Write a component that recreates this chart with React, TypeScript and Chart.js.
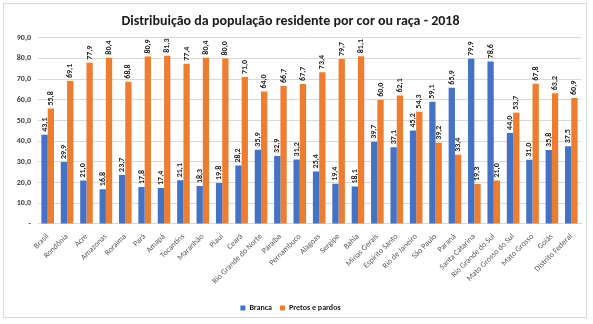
import React, { useEffect, useRef } from "react";
import { Chart, registerables } from "chart.js";

Chart.register(...registerables);

const categories = [
  "Brasil", "Rondônia", "Acre", "Amazonas", "Roraima", "Pará", "Amapá", "Tocantins",
  "Maranhão", "Piauí", "Ceará", "Rio Grande do Norte", "Paraíba", "Pernambuco",
  "Alagoas", "Sergipe", "Bahia", "Minas Gerais", "Espírito Santo", "Rio de Janeiro",
  "São Paulo", "Paraná", "Santa Catarina", "Rio Grande do Sul", "Mato Grosso do Sul",
  "Mato Grosso", "Goiás", "Distrito Federal",
];

const branca = [
  43.1, 29.9, 21.0, 16.8, 23.7, 17.8, 17.4, 21.1, 18.3, 19.8, 28.2, 35.9, 32.9, 31.2,
  25.4, 19.4, 18.1, 39.7, 37.1, 45.2, 59.1, 65.9, 79.9, 78.6, 44.0, 31.0, 35.8, 37.5,
];

const pretosPardos = [
  55.8, 69.1, 77.9, 80.4, 68.8, 80.9, 81.3, 77.4, 80.4, 80.0, 71.0, 64.0, 66.7, 67.7,
  73.4, 79.7, 81.1, 60.0, 62.1, 54.3, 39.2, 33.4, 19.3, 21.0, 53.7, 67.8, 63.2, 60.9,
];

const seriesNames = ["Branca", "Pretos e pardos"];
const titleText = "Distribuição da população residente por cor ou raça - 2018";

const FONT = "Carlito, 'Liberation Sans Narrow', 'DejaVu Sans Condensed', sans-serif";

const fmt = (v: number) => v.toFixed(1).replace(".", ",");

const labelPlugin = {
  id: "barLabels",
  afterDatasetsDraw(chart: any) {
    const ctx = chart.ctx;
    ctx.save();
    ctx.font = `bold 8px ${FONT}`;
    ctx.fillStyle = "#1a1a1a";
    ctx.textAlign = "left";
    ctx.textBaseline = "middle";
    chart.data.datasets.forEach((ds: any, di: number) => {
      const meta = chart.getDatasetMeta(di);
      meta.data.forEach((bar: any, i: number) => {
        const v = ds.data[i];
        ctx.save();
        ctx.translate(bar.x, bar.y - 3);
        ctx.rotate(-Math.PI / 2);
        ctx.fillText(fmt(v), 0, 0);
        ctx.restore();
      });
    });
    ctx.restore();
  },
};

export default function App() {
  const ref = useRef<HTMLCanvasElement | null>(null);

  useEffect(() => {
    if (!ref.current) return;
    const chart = new Chart(ref.current, {
      type: "bar",
      data: {
        labels: categories,
        datasets: [
          {
            label: seriesNames[0],
            data: branca,
            backgroundColor: "#4472C4",
            categoryPercentage: 0.65,
            barPercentage: 1,
          },
          {
            label: seriesNames[1],
            data: pretosPardos,
            backgroundColor: "#ED7D31",
            categoryPercentage: 0.65,
            barPercentage: 1,
          },
        ],
      },
      options: {
        animation: false,
        responsive: true,
        maintainAspectRatio: false,
        layout: { padding: { left: 0, right: 12, top: 3, bottom: 2 } },
        plugins: {
          title: {
            display: true,
            text: titleText,
            color: "#1a1a1a",
            font: { family: FONT, size: 14, weight: "bold" },
            padding: { top: 10, bottom: 8 },
          },
          legend: {
            display: true,
            position: "bottom",
            labels: {
              boxWidth: 5,
              boxHeight: 5,
              padding: 8,
              color: "#1a1a1a",
              font: { family: FONT, size: 8, weight: "bold" },
            },
          },
          tooltip: { enabled: false },
        },
        scales: {
          x: {
            grid: { display: false },
            border: { display: true, color: "#d9d9d9" },
            afterFit: (s: any) => {
              s.height += 10;
            },
            ticks: {
              color: "#595959",
              font: { family: FONT, size: 8 },
              maxRotation: 45,
              minRotation: 45,
              autoSkip: false,
              padding: 0,
            },
          },
          y: {
            min: 0,
            max: 90,
            grid: { color: "#d9d9d9", drawTicks: false },
            border: { display: false },
            afterFit: (s: any) => {
              s.width = 38;
            },
            ticks: {
              stepSize: 10,
              color: "#404040",
              padding: 7,
              font: { family: FONT, size: 8, weight: "bold" },
              callback: (v: any) => (Number(v) === 0 ? "-" : fmt(Number(v))),
            },
          },
        },
      },
      plugins: [labelPlugin],
    });
    return () => chart.destroy();
  }, []);

  return (
    <div style={{ position: "fixed", left: 0, top: 0, width: 593, height: 324, background: "#fff" }}>
      <div
        style={{
          position: "absolute",
          left: 3,
          top: 3,
          width: 584,
          height: 315,
          border: "1px solid #d9d9d9",
          boxSizing: "border-box",
        }}
      />
      <div style={{ position: "absolute", left: 0, top: 0, width: 593, height: 324 }}>
        <canvas ref={ref} />
      </div>
    </div>
  );
}
